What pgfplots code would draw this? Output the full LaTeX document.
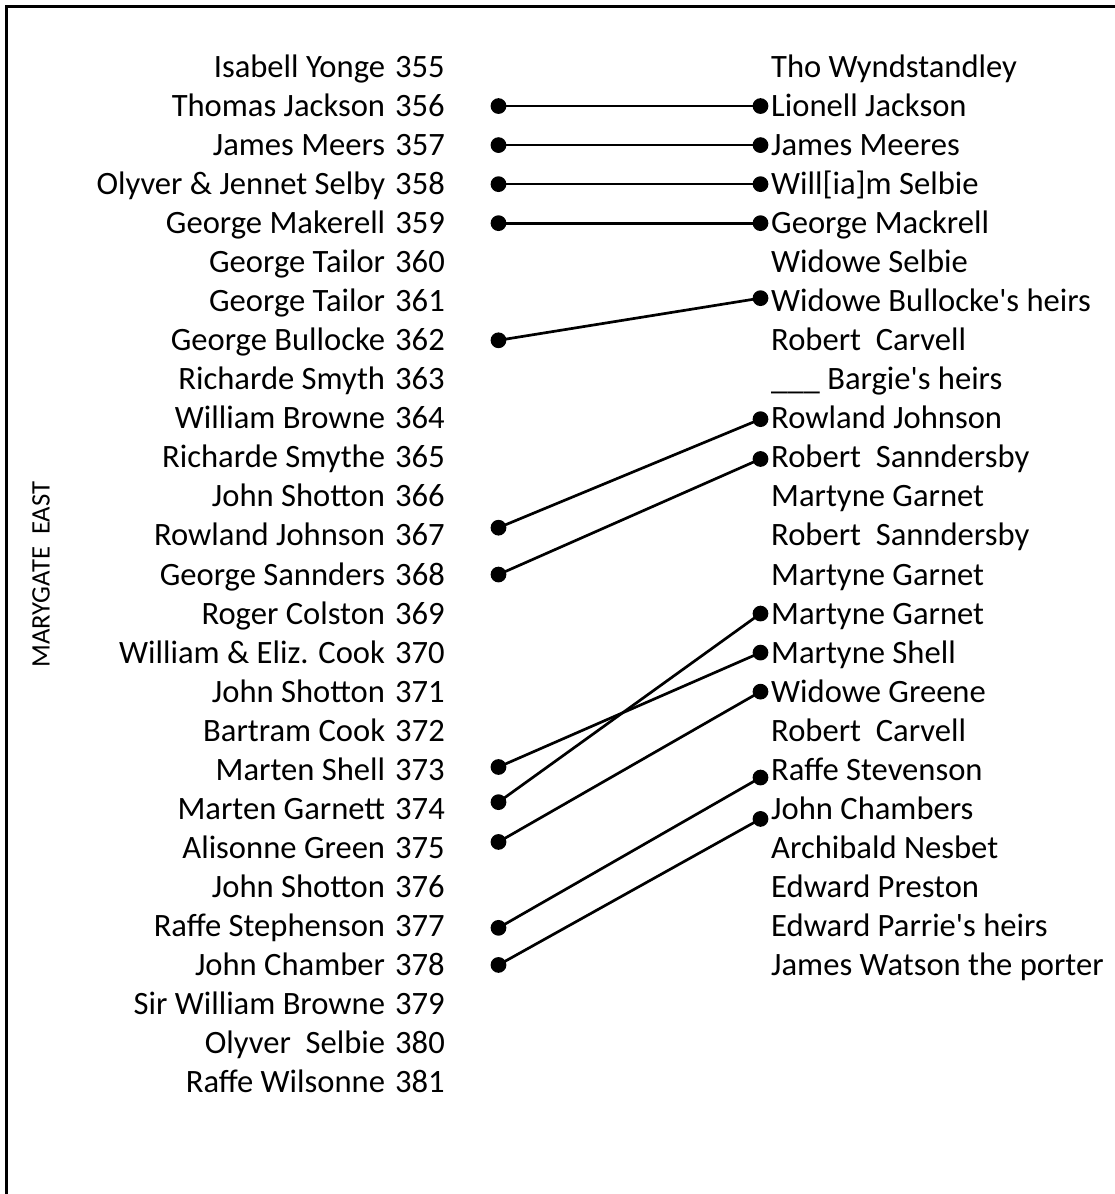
\documentclass[border=0pt]{standalone}
\usepackage{fontspec}
\setmainfont{Carlito}[Ligatures=TeXOff]
\usepackage{pgfplots}
\pgfplotsset{compat=1.18}
\newcommand{\g}{\hspace{0.31em}}
\begin{document}
\begin{tikzpicture}
\useasboundingbox (0,0) rectangle (1115pt,1194pt);
\draw[line width=3pt] (6.5pt,-10pt) -- (6.5pt,1187.5pt) -- (1125pt,1187.5pt);
\pgfplotsset{
  rowaxis/.style={
    scale only axis, width=326pt, height=1132.16pt,
    at={(445pt,53.4pt)}, anchor=south west,
    xmin=-0.20420, xmax=1.04008,
    ymin=-1.5, ymax=27.5, y dir=reverse,
    xtick=\empty, major tick length=0pt,
    axis line style={draw=none}, tick style={draw=none},
    clip=false,
    ticklabel style={font=\fontsize{32.6}{39}\selectfont, inner sep=0pt},
  },
  conn/.style={black, solid, line width=2.7pt, mark=*, mark size=6.5pt,
    mark options={solid, fill=black, draw=black, line width=2.7pt}},
}
\begin{axis}[rowaxis,
    ytick={0,...,26},
    yticklabel pos=left,
    yticklabel style={anchor=base east, yshift=-10.5pt},
    yticklabels={
      {Isabell Yonge\g 355},
      {Thomas Jackson\g 356},
      {James Meers\g 357},
      {Olyver \& Jennet Selby\g 358},
      {George Makerell\g 359},
      {George Tailor\g 360},
      {George Tailor\g 361},
      {George Bullocke\g 362},
      {Richarde Smyth\g 363},
      {William Browne\g 364},
      {Richarde Smythe\g 365},
      {John Shotton\g 366},
      {Rowland Johnson\g 367},
      {George Sannders\g 368},
      {Roger Colston\g 369},
      {William \& Eliz. Cook\g 370},
      {John Shotton\g 371},
      {Bartram Cook\g 372},
      {Marten Shell\g 373},
      {Marten Garnett\g 374},
      {Alisonne Green\g 375},
      {John Shotton\g 376},
      {Raffe Stephenson\g 377},
      {John Chamber\g 378},
      {Sir William Browne\g 379},
      {Olyver\ \ Selbie\g 380},
      {Raffe Wilsonne\g 381}},
    ylabel={MARYGATE\ \ EAST},
    ylabel style={at={(axis description cs:-1.23926,0.5)}, anchor=center,
      font=\fontsize{26.7}{30}\selectfont},
]
\addplot[conn] coordinates {(0,1.0) (1,1.0)};
\addplot[conn] coordinates {(0,2.0) (1,2.0)};
\addplot[conn] coordinates {(0,3.0) (1,3.0)};
\addplot[conn] coordinates {(0,4.0) (1,4.0)};
\addplot[conn] coordinates {(0,7.0) (1,5.92)};
\addplot[conn] coordinates {(0,11.8) (1,9.02)};
\addplot[conn] coordinates {(0,13.0) (1,10.04)};
\addplot[conn] coordinates {(0,17.93) (1,15.0)};
\addplot[conn] coordinates {(0,18.83) (1,14.0)};
\addplot[conn] coordinates {(0,19.85) (1,16.0)};
\addplot[conn] coordinates {(0,22.05) (1,18.2)};
\addplot[conn] coordinates {(0,23.0) (1,19.26)};
\end{axis}
\begin{axis}[rowaxis,
    ytick={0,...,23},
    yticklabel pos=right,
    yticklabel style={anchor=base west, yshift=-10.5pt},
    yticklabels={
      {Tho Wyndstandley},
      {Lionell Jackson},
      {James Meeres},
      {Will[ia]m Selbie},
      {George Mackrell},
      {Widowe Selbie},
      {Widowe Bullocke's heirs},
      {Robert\ \ Carvell},
      {\_\_\_ Bargie's heirs},
      {Rowland Johnson},
      {Robert\ \ Sanndersby},
      {Martyne Garnet},
      {Robert\ \ Sanndersby},
      {Martyne Garnet},
      {Martyne Garnet},
      {Martyne Shell},
      {Widowe Greene},
      {Robert\ \ Carvell},
      {Raffe Stevenson},
      {John Chambers},
      {Archibald Nesbet},
      {Edward Preston},
      {Edward Parrie's heirs},
      {James Watson the porter}},
]
\end{axis}
\end{tikzpicture}
\end{document}
